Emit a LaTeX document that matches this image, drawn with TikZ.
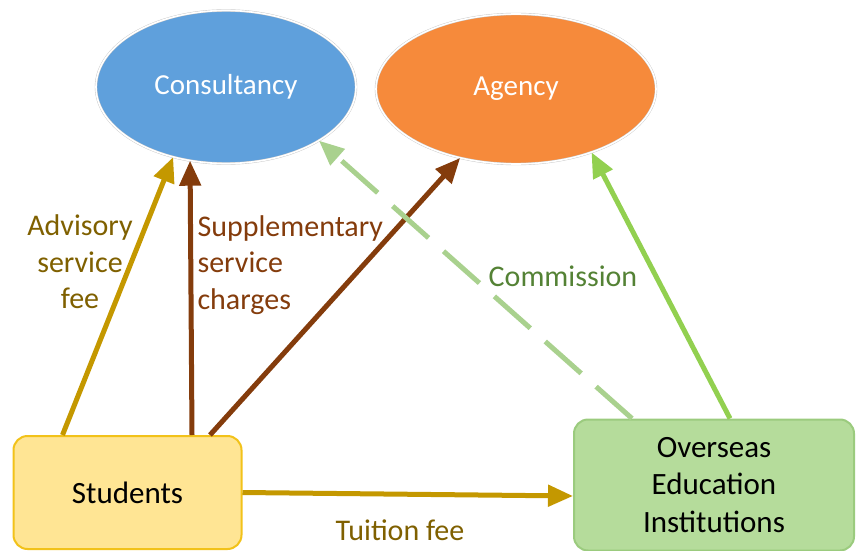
\documentclass[tikz,border=0pt]{standalone}
\usepackage{fontspec}
\setmainfont{Carlito}
\usetikzlibrary{arrows.meta,shapes}
\definecolor{ConBlue}{HTML}{5FA0DC}
\definecolor{AgeOrange}{HTML}{F68A3B}
\definecolor{StuFill}{HTML}{FFE594}
\definecolor{StuLine}{HTML}{F2C21A}
\definecolor{OvrFill}{HTML}{B5DC9B}
\definecolor{OvrLine}{HTML}{9BCB7E}
\definecolor{FeeGold}{HTML}{C49800}
\definecolor{ChargeBrown}{HTML}{843C0C}
\definecolor{PayGreen}{HTML}{92D050}
\definecolor{ComGreen}{HTML}{A9D18E}
\definecolor{FeeText}{HTML}{7F6000}
\definecolor{ComText}{HTML}{548235}

\begin{document}
\begin{tikzpicture}[x=1pt,y=-1pt,
  oval/.style={ellipse, draw=black!22, double=white, double distance=1.6pt, inner sep=0pt, text=white, font=\fontsize{29}{34}\selectfont},
  box/.style={rectangle, rounded corners=14pt, line width=2pt, inner sep=0pt, align=center, font=\fontsize{31}{37.5}\selectfont},
  link/.style={line width=5pt, -{Triangle[length=25pt,width=21pt]}},
  lbl/.style={font=\fontsize{30}{36.5}\selectfont}]
\useasboundingbox (0,0) rectangle (857,551);

\node[oval, fill=ConBlue, minimum width=260pt, minimum height=153pt] (con) at (226,87) {Consultancy};
\node[oval, fill=AgeOrange, minimum width=280pt, minimum height=150pt] (age) at (516,89) {Agency};

\node[box, fill=StuFill, draw=StuLine, minimum width=228pt, minimum height=113pt] (stu) at (127.5,492.5) {Students};
\node[box, fill=OvrFill, draw=OvrLine, minimum width=280pt, minimum height=131pt] (ovr) at (714,485) {Overseas\\Education\\Institutions};

\draw[link, FeeGold] ([xshift=50pt]stu.north west) -- (con.233);
\draw[link, ChargeBrown] ([xshift=64.5pt]stu.north) -- (con.244);
\draw[link, ChargeBrown] ([xshift=82.5pt]stu.north) -- (age.231);
\draw[link, ComGreen, dash pattern=on 48pt off 20pt] ([xshift=-82pt]ovr.north) -- (con.330);
\draw[link, PayGreen] ([xshift=16pt]ovr.north) -- (age.320);
\draw[link, FeeGold] (stu.east) -- ([yshift=-11pt]ovr.west);

\node[lbl, text=FeeText, align=center] (advl) at (80,262) {Advisory\\service\\fee};
\node[lbl, text=ChargeBrown, align=left, anchor=west] (supl) at (194,265) {Supplementary\\service\\charges};
\node[lbl, text=ComText] (coml) at (563,276) {Commission};
\node[lbl, text=FeeText] (tuil) at (400,530) {Tuition fee};
\end{tikzpicture}
\end{document}
